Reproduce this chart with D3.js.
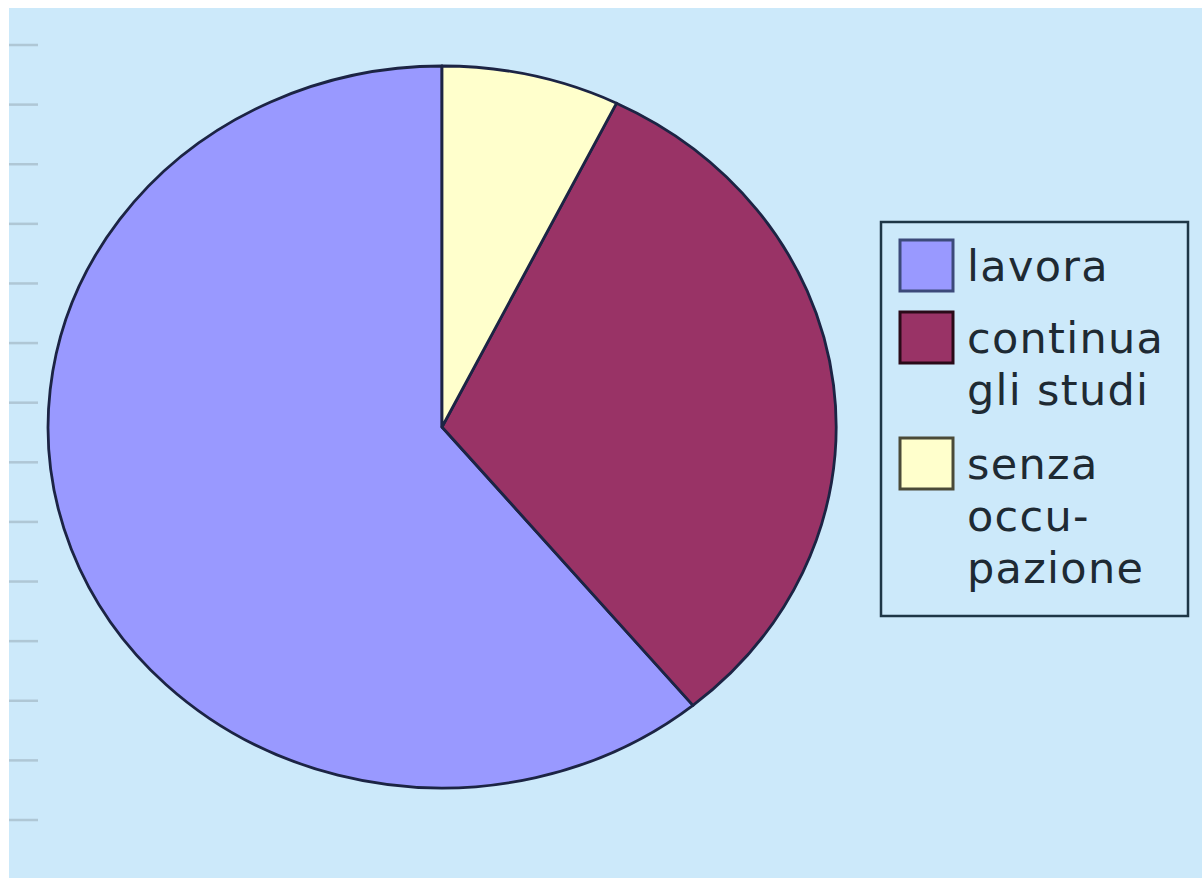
<!DOCTYPE html>
<html>
<head>
<meta charset="utf-8">
<script src="https://cdn.jsdelivr.net/npm/d3@7"></script>
<style>
  html, body { margin: 0; padding: 0; background: #ffffff; }
  svg { display: block; }
</style>
</head>
<body>
<svg id="chart" width="1202" height="878"></svg>
<script>
// ---- data ----
const categories = ["lavora", "continua gli studi", "senza occupazione"];
const legendLines = [["lavora"], ["continua", "gli studi"], ["senza", "occu-", "pazione"]];
const values = [61, 31.7, 7.3];
const colors = ["#9999ff", "#993366", "#ffffcc"];
const swatchStrokes = ["#3c4a7a", "#2a0a18", "#4a4a38"];
const decoTickCount = 14;

// ---- layout ----
const W = 1202, H = 878;
const svg = d3.select("#chart");

// white margin + background
svg.append("rect").attr("x", 0).attr("y", 0).attr("width", W).attr("height", H).attr("fill", "#ffffff");
svg.append("rect").attr("x", 9).attr("y", 8).attr("width", W - 9).attr("height", H - 8).attr("fill", "#cce9fa");

// faint left tick marks (remnants of an axis)
const tickScale = d3.scaleLinear().domain([0, decoTickCount - 1]).range([45, 820]);
svg.append("g").selectAll("line")
  .data(d3.range(decoTickCount))
  .join("line")
  .attr("x1", 9).attr("x2", 38)
  .attr("y1", d => tickScale(d)).attr("y2", d => tickScale(d))
  .attr("stroke", "#a9bfcc").attr("stroke-width", 2.5).attr("opacity", 0.8);

// pie (elliptical, drawn counter-clockwise from 12 o'clock)
const cx = 442, cy = 427, rx = 394, ry = 361;
const pie = d3.pie().sort(null).value(d => d).startAngle(0).endAngle(-2 * Math.PI);
const arc = d3.arc().innerRadius(0).outerRadius(1);

const pg = svg.append("g").attr("transform", `translate(${cx},${cy}) scale(${rx},${ry})`);
pg.selectAll("path")
  .data(pie(values))
  .join("path")
  .attr("d", arc)
  .attr("fill", (d, i) => colors[i])
  .attr("stroke", "#1c2444")
  .attr("stroke-width", 2.8)
  .attr("stroke-linejoin", "round")
  .attr("vector-effect", "non-scaling-stroke");

// legend
const lg = svg.append("g");
lg.append("rect")
  .attr("x", 881).attr("y", 222).attr("width", 307).attr("height", 394)
  .attr("fill", "none").attr("stroke", "#1e3646").attr("stroke-width", 2.5);

const swatchY = d3.scaleOrdinal().domain(categories).range([240, 312, 438]);
const fontSize = 43, lineH = 52;
categories.forEach((c, i) => {
  const y0 = swatchY(c);
  lg.append("rect")
    .attr("x", 900).attr("y", y0).attr("width", 53).attr("height", 51)
    .attr("fill", colors[i]).attr("stroke", swatchStrokes[i]).attr("stroke-width", 3);
  const t = lg.append("text")
    .attr("x", 967).attr("y", y0 + 41)
    .attr("font-family", "DejaVu Sans, sans-serif")
    .attr("font-size", fontSize)
    .attr("letter-spacing", 1.3)
    .attr("fill", "#1e2a33");
  legendLines[i].forEach((line, j) => {
    t.append("tspan").attr("x", 967).attr("dy", j === 0 ? 0 : lineH).text(line);
  });
});
</script>
</body>
</html>
